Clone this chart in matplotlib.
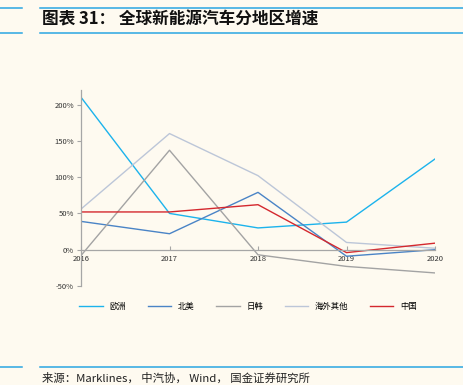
import matplotlib.pyplot as plt
from matplotlib.lines import Line2D

plt.rcParams['font.family'] = ['Noto Sans CJK SC', 'DejaVu Sans']

years = [2016, 2017, 2018, 2019, 2020]
europe = [210, 50, 30, 38, 125]
north_america = [39, 22, 79, -9, 0]
japan_korea = [-8, 137, -7, -23, -32]
overseas_other = [56, 160, 102, 10, 2]
china = [52, 52, 62, -4, 9]

series = [
    ('欧洲', europe, '#1CB3EC'),
    ('北美', north_america, '#4A84C6'),
    ('日韩', japan_korea, '#A3A3A3'),
    ('海外其他', overseas_other, '#BCC6D8'),
    ('中国', china, '#D4282E'),
]
yticks = [-50, 0, 50, 100, 150, 200]

bg = '#FEFAF0'
fig = plt.figure(figsize=(4.64, 3.85), dpi=100, facecolor=bg)

# header / footer rules
rule = '#2AA6E2'
for y in (1 - 8 / 385, 1 - 33 / 385, 1 - 367 / 385):
    fig.add_artist(Line2D([40 / 464, 1], [y, y], color=rule, lw=1.1))
    fig.add_artist(Line2D([0, 22 / 464], [y, y], color=rule, lw=1.1))

fig.text(42 / 464, 1 - 20 / 385, '图表 31： 全球新能源汽车分地区增速', fontsize=12,
         fontweight='bold', style='italic', va='center', ha='left', color='#111111')
fig.text(42 / 464, 1 - 378 / 385, '来源：Marklines， 中汽协， Wind， 国金证券研究所', fontsize=8.2,
         va='center', ha='left', color='#222222')

ax = fig.add_axes([81 / 464, 1 - 286 / 385, (435 - 81) / 464, (286 - 90) / 385])
ax.set_facecolor(bg)

handles = []
for name, vals, c in series:
    h, = ax.plot(years, vals, color=c, lw=1.0, label=name)
    handles.append(h)

ax.set_xlim(2016, 2020)
ax.set_ylim(-50, 220)
ax.set_yticks(yticks)
ax.set_yticklabels([f'{v}%' for v in yticks])
ax.set_xticks(years)

axis_c = '#A6A6A6'
for s in ('top', 'right'):
    ax.spines[s].set_visible(False)
ax.spines['bottom'].set_position(('data', 0))
ax.spines['bottom'].set_color(axis_c)
ax.spines['left'].set_color(axis_c)
ax.spines['bottom'].set_linewidth(0.9)
ax.spines['left'].set_linewidth(0.9)
ax.tick_params(axis='y', direction='out', length=3, color=axis_c, labelsize=5.5, labelcolor='#333333', pad=2)
ax.tick_params(axis='x', direction='in', length=3, color=axis_c, labelsize=5.5, labelcolor='#333333', pad=4)

fig.legend(handles=handles, loc='center', bbox_to_anchor=(248 / 464, 1 - 306 / 385), ncol=5,
           frameon=False, fontsize=6, handlelength=2.8, columnspacing=2.6, handletextpad=0.8)

fig.savefig('out.png', dpi=100, facecolor=bg)
